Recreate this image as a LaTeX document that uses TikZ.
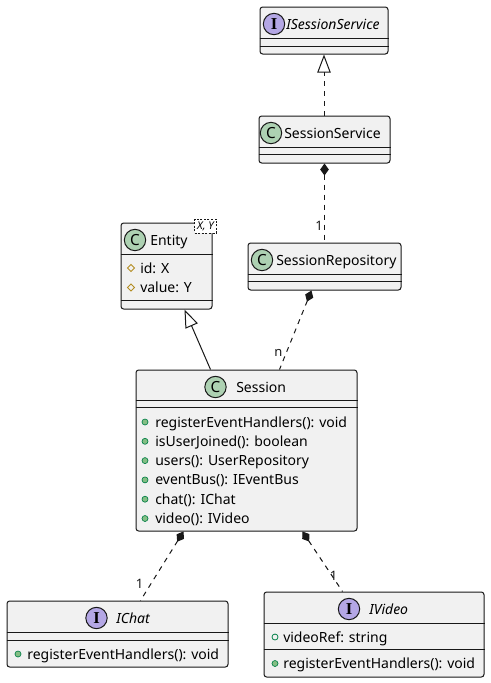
\documentclass[tikz,border=0pt]{standalone}
\usepackage{fontspec}
\setmainfont{Noto Sans}
\newfontfamily\iconserif{Liberation Serif}
\usetikzlibrary{arrows.meta,calc,shapes.geometric}
\definecolor{linec}{HTML}{181818}
\definecolor{boxfill}{HTML}{F1F1F1}
\definecolor{cgreen}{HTML}{ADD1B2}
\definecolor{ipurple}{HTML}{B4A7E5}
\definecolor{pubfill}{HTML}{84BE84}
\definecolor{publine}{HTML}{038048}
\definecolor{protline}{HTML}{B38D22}
\newcommand\clsep[2]{\draw[sepline] ($(#1.north west)+(0,#2)$) -- ($(#1.north east)+(0,#2)$);}
\begin{document}
\begin{tikzpicture}[x=0.75pt,y=-0.75pt,
 box/.style={draw=linec, fill=boxfill, line width=0.75pt, rounded corners=2pt, inner sep=0pt},
 sepline/.style={draw=linec, line width=0.75pt},
 cicon/.style={circle, draw=linec, line width=0.75pt, fill=cgreen, minimum size=16pt, inner sep=0pt, font=\fontsize{11.5pt}{11pt}\selectfont\bfseries},
 iicon/.style={cicon, fill=ipurple, font=\fontsize{12.5pt}{11pt}\selectfont\iconserif\bfseries},
 cname/.style={anchor=base west, inner sep=0pt, font=\fontsize{10.5pt}{12pt}\selectfont},
 iname/.style={cname, font=\fontsize{10.5pt}{12pt}\selectfont\itshape},
 member/.style={anchor=base west, inner sep=0pt, font=\fontsize{10.5pt}{12pt}\selectfont},
 pubm/.style={circle, draw=publine, fill=pubfill, line width=0.5pt, minimum size=4.5pt, inner sep=0pt},
 pubf/.style={circle, draw=publine, fill=none, line width=0.6pt, minimum size=4.5pt, inner sep=0pt},
 protf/.style={diamond, draw=protline, fill=none, line width=0.6pt, minimum width=5.5pt, minimum height=5.5pt, inner sep=0pt},
 lbl/.style={inner sep=0pt, text=linec, font=\fontsize{9.75pt}{12pt}\selectfont},
 conn/.style={draw=linec, line width=0.75pt},
 dash5/.style={dash pattern=on 3.75pt off 3.75pt},
 comp/.style={arrows={Diamond[length=9pt,width=6.5pt]-}},
 ext/.style={arrows={-Triangle[open,length=13.5pt,width=10pt]}},
]
\fill[white] (0,0) rectangle (490,683);
\useasboundingbox (0,0) rectangle (490,683);

% ISessionService
\node[box, minimum width=96pt, minimum height=35.25pt] (iss) at (324,30.5) {};
\clsep{iss}{32}\clsep{iss}{40}
\node[iicon] (issI) at (274,24) {I};
\node[iname] (issN) at (286,29) {ISessionService};

% SessionService
\node[box, minimum width=98.25pt, minimum height=35.25pt] (ss) at (324.5,139.5) {};
\clsep{ss}{32}\clsep{ss}{39}
\node[cicon] (ssC) at (271,133) {C};
\node[cname] (ssN) at (284,138) {SessionService};

% Entity
\node[box, minimum width=68.25pt, minimum height=64.5pt] (ent) at (166.5,266) {};
\clsep{ent}{32}\clsep{ent}{78}
\node[cicon] (entC) at (135,240) {C};
\node[cname] (entN) at (150,245) {Entity};
\node[protf] (entI1) at (131,268) {};
\node[member] (entM1) at (140,273) {id: X};
\node[protf] (entI2) at (131,287.5) {};
\node[member] (entM2) at (140,292.5) {value: Y};
\node[draw=linec, fill=white, line width=0.5pt, dash pattern=on 1.5pt off 1.2pt, minimum width=16.5pt, minimum height=10.5pt, inner sep=0pt, font=\fontsize{8pt}{8pt}\selectfont\itshape] (entT) at (205.5,226) {X, Y};

% SessionRepository
\node[box, minimum width=114.75pt, minimum height=35.25pt] (repo) at (324.5,266.5) {};
\clsep{repo}{32}\clsep{repo}{39}
\node[cicon] (repoC) at (262,260) {C};
\node[cname] (repoN) at (276,265) {SessionRepository};

% Session
\node[box, minimum width=165.75pt, minimum height=120.75pt] (ses) at (246.5,450.5) {};
\clsep{ses}{31}\clsep{ses}{38}
\node[cicon] (sesC) at (215.5,387) {C};
\node[cname] (sesN) at (236,392) {Session};
\node[pubm] (sesI1) at (145,422) {};
\node[member] (sesM1) at (155,427) {registerEventHandlers(): void};
\node[pubm] (sesI2) at (145,441.3) {};
\node[member] (sesM2) at (155,446.3) {isUserJoined(): boolean};
\node[pubm] (sesI3) at (145,460.6) {};
\node[member] (sesM3) at (155,465.6) {users(): UserRepository};
\node[pubm] (sesI4) at (145,479.9) {};
\node[member] (sesM4) at (155,484.9) {eventBus(): IEventBus};
\node[pubm] (sesI5) at (145,499.2) {};
\node[member] (sesM5) at (155,504.2) {chat(): IChat};
\node[pubm] (sesI6) at (145,518.5) {};
\node[member] (sesM6) at (155,523.5) {video(): IVideo};

% IChat
\node[box, minimum width=165.75pt, minimum height=49.5pt] (ichat) at (117.5,634) {};
\clsep{ichat}{32}\clsep{ichat}{40}
\node[iicon] (ichatI) at (96.5,618) {I};
\node[iname] (ichatN) at (116,623) {IChat};
\node[pubm] (ichatI1) at (18,654) {};
\node[member] (ichatM1) at (27,659) {registerEventHandlers(): void};

% IVideo
\node[box, minimum width=165pt, minimum height=63.75pt] (ivideo) at (374,634.5) {};
\clsep{ivideo}{32}\clsep{ivideo}{58}
\node[iicon] (ivideoI) at (349,609) {I};
\node[iname] (ivideoN) at (369,614) {IVideo};
\node[pubf] (ivideoI1) at (275,637) {};
\node[member] (ivideoM1) at (283,642) {videoRef: string};
\node[pubm] (ivideoI2) at (275,663.5) {};
\node[member] (ivideoM2) at (283,668.5) {registerEventHandlers(): void};

% connectors
\draw[conn, dash5, ext] (ss.north -| iss.south) -- (iss.south);
\draw[conn, dash5, comp] (ss.south) -- (repo.north);
\draw[conn, ext] ($(ses.north west)+(75,0)$) -- ($(ent.south west)+(64,0)$);
\draw[conn, dash5, comp] ($(repo.south west)+(64,0)$) -- ($(ses.north west)+(144,0)$);
\draw[conn, dash5, comp] ($(ses.south west)+(48,0)$) -- ($(ichat.north west)+(134,0)$);
\draw[conn, dash5, comp] ($(ses.south west)+(167,0)$) -- ($(ivideo.north west)+(79,0)$);

% multiplicities
\node[lbl] (lab1) at ($(repo.north)+(-5.5,-17)$) {1};
\node[lbl] (labn) at ($(ses.north west)+(143,-17)$) {n};
\node[lbl] (labc) at ($(ichat.north west)+(133,-17)$) {1};
\node[lbl] (labv) at ($(ivideo.north west)+(70,-16)$) {1};
\end{tikzpicture}
\end{document}
